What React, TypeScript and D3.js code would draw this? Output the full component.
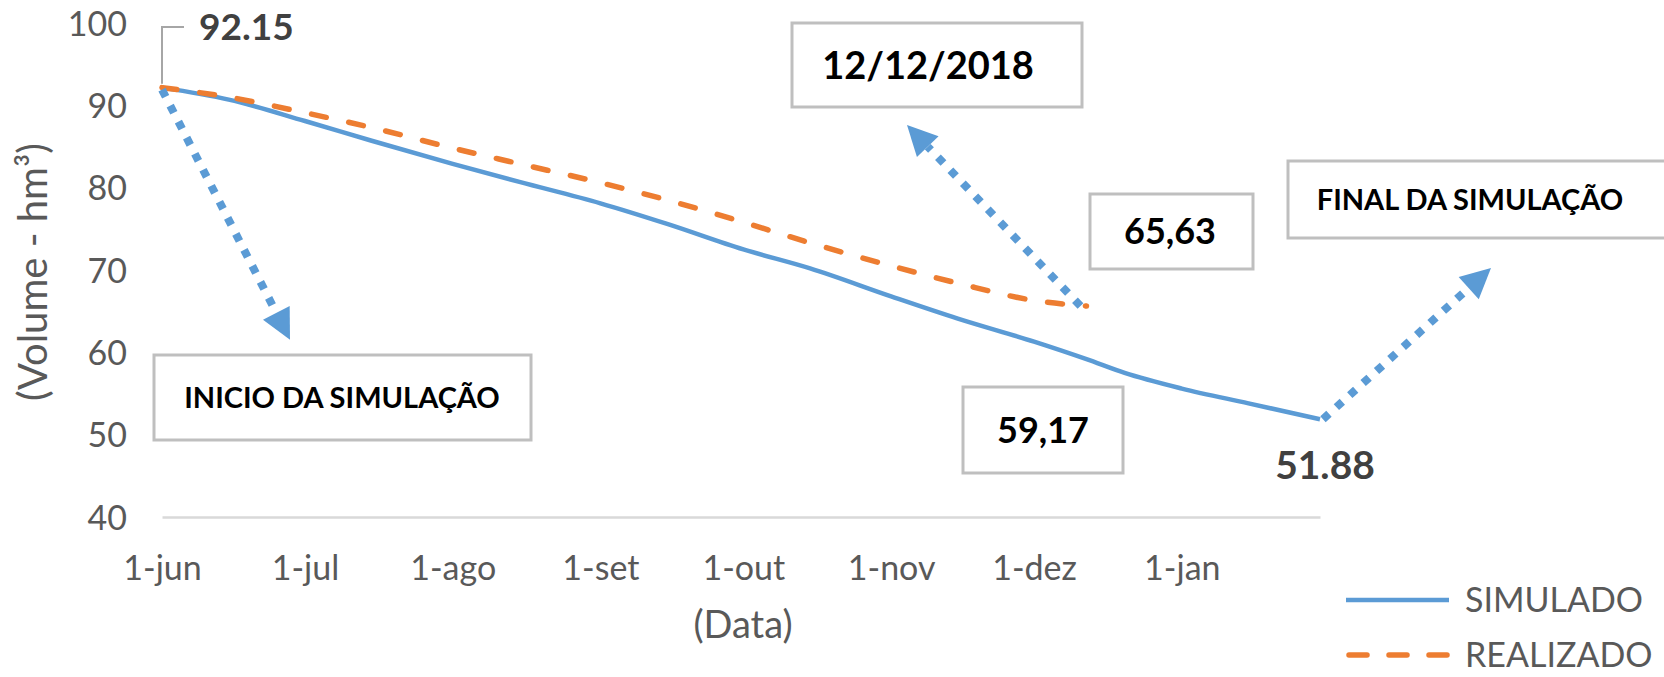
import * as d3 from "d3";
import { useEffect, useRef } from "react";

const width = 1664;
const height = 677;

// valores (volume em hm³)
const simDates = ["2018-06-01", "2018-06-15", "2018-07-01", "2018-07-15", "2018-08-01", "2018-08-15",
    "2018-09-01", "2018-09-15", "2018-10-01", "2018-10-15", "2018-11-01", "2018-11-15",
    "2018-12-01", "2018-12-12", "2018-12-20", "2019-01-01", "2019-01-15", "2019-01-30"];
const simValues = [92.15, 90.7, 88.1, 85.7, 82.9, 80.7, 78.1, 75.6, 72.5, 70.2, 66.8, 64.1,
    61.3, 59.17, 57.5, 55.6, 53.8, 51.88];

const realDates = ["2018-06-01", "2018-06-15", "2018-07-01", "2018-07-15", "2018-08-01", "2018-08-15",
    "2018-09-01", "2018-09-15", "2018-10-01", "2018-10-15", "2018-11-01", "2018-11-15",
    "2018-12-01", "2018-12-12"];
const realValues = [92.15, 91.0, 89.1, 87.3, 84.8, 82.9, 80.6, 78.5, 75.8, 73.3, 70.5, 68.4,
    66.3, 65.63];

const monthLabels = ["1-jun", "1-jul", "1-ago", "1-set", "1-out", "1-nov", "1-dez", "1-jan"];
const yTicks = [40, 50, 60, 70, 80, 90, 100];
const seriesNames = ["SIMULADO", "REALIZADO"];
const seriesColors = ["#5B9BD5", "#ED7D31"];

const FONT = "Lato, 'Open Sans', sans-serif";

const App = () => {
    const svgRef = useRef(null);

    useEffect(() => {
        const parse = d3.timeParse("%Y-%m-%d");
        const sim = simDates.map((d, i) => ({ date: parse(d), value: simValues[i] }));
        const real = realDates.map((d, i) => ({ date: parse(d), value: realValues[i] }));

        const svg = d3.select(svgRef.current);
        svg.selectAll("*").remove();

        const x = d3.scaleTime()
            .domain(d3.extent(sim, d => d.date))
            .range([162, 1320]);
        const y = d3.scaleLinear()
            .domain([40, 100])
            .range([517, 23]);

        // eixo x
        const months = d3.timeMonth.range(sim[0].date, sim[sim.length - 1].date);
        const xAxis = svg.append("g")
            .attr("transform", `translate(0, ${y(40)})`)
            .call(d3.axisBottom(x)
                .tickValues(months)
                .tickSize(0)
                .tickSizeOuter(0)
                .tickPadding(39)
                .tickFormat((d, i) => monthLabels[i]));
        xAxis.select(".domain").attr("stroke", "#D9D9D9").attr("stroke-width", 2.5);
        xAxis.selectAll("text")
            .attr("fill", "#595959")
            .style("font-family", FONT)
            .style("font-size", "34px");

        // eixo y (só rótulos)
        const yAxis = svg.append("g")
            .attr("transform", `translate(${x.range()[0]}, 0)`)
            .call(d3.axisLeft(y).tickValues(yTicks).tickSize(0).tickPadding(35));
        yAxis.select(".domain").remove();
        yAxis.selectAll("text")
            .attr("fill", "#595959")
            .attr("dy", "0.36em")
            .style("font-family", FONT)
            .style("font-size", "34px");

        // títulos
        svg.append("text")
            .attr("x", 743)
            .attr("y", 638)
            .attr("text-anchor", "middle")
            .attr("fill", "#595959")
            .style("font-family", FONT)
            .style("font-size", "38px")
            .text("(Data)");
        svg.append("text")
            .attr("transform", "translate(47, 272) rotate(-90)")
            .attr("text-anchor", "middle")
            .attr("fill", "#595959")
            .style("font-family", FONT)
            .style("font-size", "40px")
            .text("(Volume - hm³)");

        const line = d3.line()
            .x(d => x(d.date))
            .y(d => y(d.value))
            .curve(d3.curveMonotoneX);

        svg.append("path")
            .datum(sim)
            .attr("d", line)
            .attr("fill", "none")
            .attr("stroke", seriesColors[0])
            .attr("stroke-width", 4.5)
            .attr("stroke-linejoin", "round");

        svg.append("path")
            .datum(real)
            .attr("d", line)
            .attr("fill", "none")
            .attr("stroke", seriesColors[1])
            .attr("stroke-width", 5.5)
            .attr("stroke-dasharray", "15 23")
            .attr("stroke-linecap", "round");

        // caixas de texto
        const boxes = [
            { text: "INICIO DA SIMULAÇÃO", x: 154, y: 355, w: 377, h: 85, tx: 342, size: 29 },
            { text: "12/12/2018", x: 792, y: 23, w: 290, h: 84, tx: 928, size: 38 },
            { text: "65,63", x: 1090, y: 194, w: 163, h: 75, tx: 1170, size: 36 },
            { text: "FINAL DA SIMULAÇÃO", x: 1288, y: 161, w: 420, h: 77, tx: 1470, size: 29 },
            { text: "59,17", x: 963, y: 387, w: 160, h: 86, tx: 1043, size: 36 },
        ];
        const bg = svg.append("g");
        boxes.forEach(b => {
            bg.append("rect")
                .attr("x", b.x).attr("y", b.y)
                .attr("width", b.w).attr("height", b.h)
                .attr("fill", "#fff")
                .attr("stroke", "#BFBFBF")
                .attr("stroke-width", 3);
            bg.append("text")
                .attr("x", b.tx)
                .attr("y", b.y + b.h / 2)
                .attr("dy", "0.36em")
                .attr("text-anchor", "middle")
                .attr("fill", "#000")
                .style("font-family", FONT)
                .style("font-weight", 700)
                .style("font-size", `${b.size}px`)
                .text(b.text);
        });

        // setas pontilhadas
        const drawArrow = (x0, y0, x1, y1) => {
            const L = 30, W = 15;
            const a = Math.atan2(y1 - y0, x1 - x0);
            const bx = x1 - L * Math.cos(a);
            const by = y1 - L * Math.sin(a);
            svg.append("line")
                .attr("x1", x0).attr("y1", y0)
                .attr("x2", bx).attr("y2", by)
                .attr("stroke", seriesColors[0])
                .attr("stroke-width", 8)
                .attr("stroke-dasharray", "8 10");
            svg.append("polygon")
                .attr("points", [
                    [x1, y1],
                    [bx + W * Math.sin(a), by - W * Math.cos(a)],
                    [bx - W * Math.sin(a), by + W * Math.cos(a)]
                ].map(p => p.join(",")).join(" "))
                .attr("fill", seriesColors[0]);
        };
        const first = sim[0];
        const lastSim = sim[sim.length - 1];
        const lastReal = real[real.length - 1];
        drawArrow(x(first.date), y(first.value) + 2, x(first.date) + 128, y(first.value) + 252);
        drawArrow(x(lastReal.date) - 6, y(lastReal.value), 907, 125);
        drawArrow(x(lastSim.date) + 3, y(lastSim.value), 1491, 268);

        // rótulos de dados
        const fx = x(first.date), fy = y(first.value);
        svg.append("path")
            .attr("d", `M${fx},${fy - 4}V27H${fx + 22}`)
            .attr("fill", "none")
            .attr("stroke", "#A6A6A6")
            .attr("stroke-width", 2);
        svg.append("text")
            .attr("x", fx + 37)
            .attr("y", 40)
            .attr("fill", "#404040")
            .style("font-family", FONT)
            .style("font-weight", 700)
            .style("font-size", "37px")
            .text(d3.format(".2f")(first.value));
        svg.append("text")
            .attr("x", x(lastSim.date) + 5)
            .attr("y", y(lastSim.value) + 60)
            .attr("text-anchor", "middle")
            .attr("fill", "#404040")
            .style("font-family", FONT)
            .style("font-weight", 700)
            .style("font-size", "39px")
            .text(d3.format(".2f")(lastSim.value));

        // legenda
        const legend = svg.append("g").attr("transform", "translate(1346, 600)");
        seriesNames.forEach((name, i) => {
            const row = legend.append("g").attr("transform", `translate(0, ${i * 55})`);
            row.append("line")
                .attr("x1", i === 0 ? 0 : 3).attr("x2", 103)
                .attr("stroke", seriesColors[i])
                .attr("stroke-width", i === 0 ? 4.5 : 5.5)
                .attr("stroke-linecap", i === 0 ? "butt" : "round")
                .attr("stroke-dasharray", i === 0 ? null : "18 22");
            row.append("text")
                .attr("x", 119)
                .attr("dy", "0.36em")
                .attr("fill", "#595959")
                .style("font-family", FONT)
                .style("font-size", "34px")
                .text(name);
        });
    }, []);

    return (
        <svg
            ref={svgRef}
            width={width}
            height={height}
            style={{ position: "absolute", left: 0, top: 0, background: "#fff" }}
        />
    );
};

export default App;
